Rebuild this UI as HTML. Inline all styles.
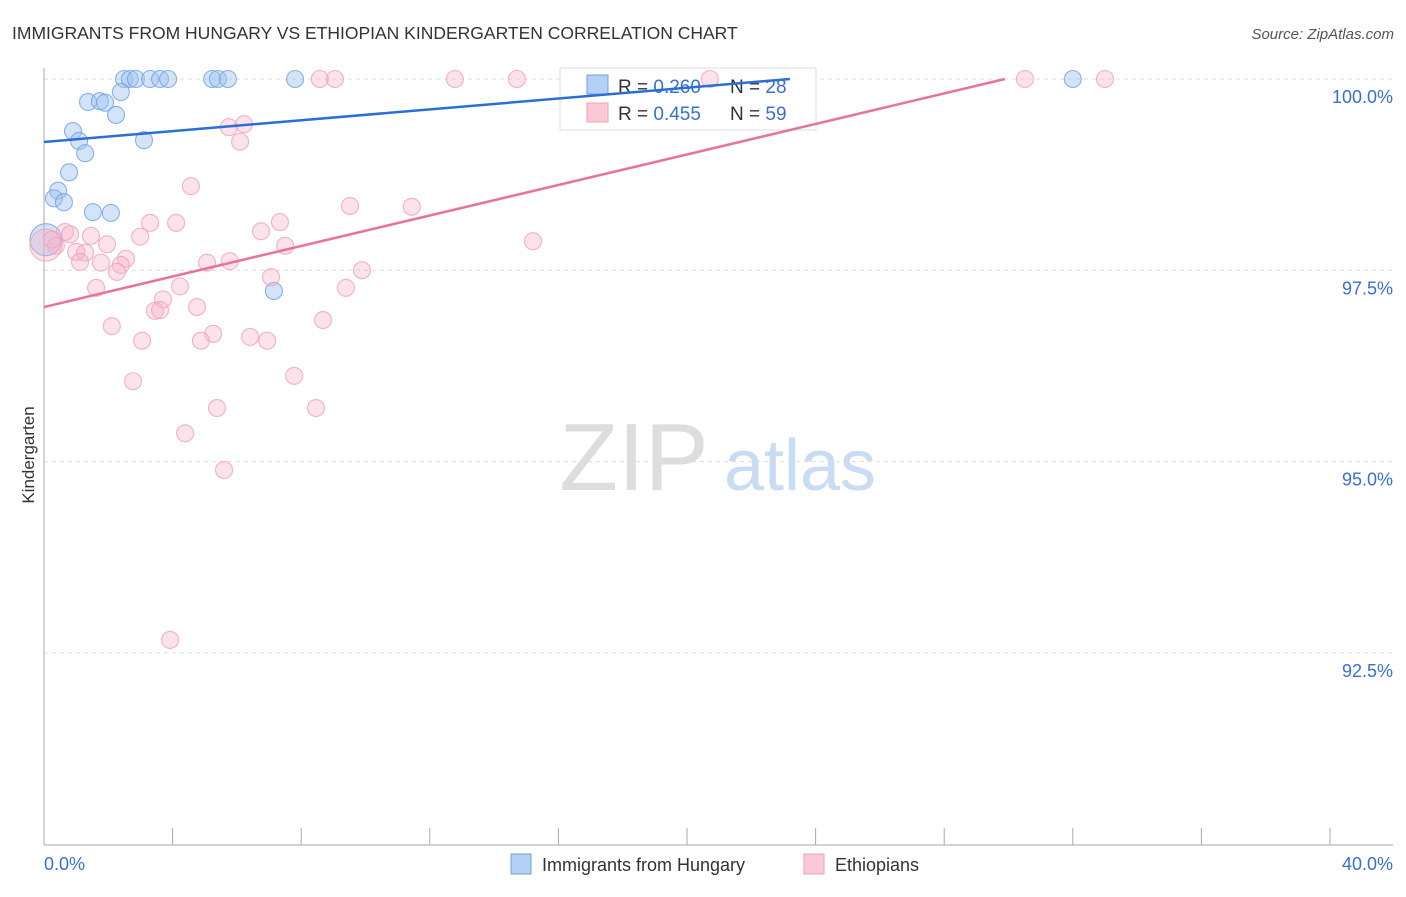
<!DOCTYPE html>
<html><head><meta charset="utf-8"><style>
body{margin:0;background:#fff;font-family:"Liberation Sans",sans-serif}
svg text{font-family:"Liberation Sans",sans-serif}
</style></head><body>
<svg width="1406" height="892">
<text x="12" y="39" font-size="17.5" fill="#333">IMMIGRANTS FROM HUNGARY VS ETHIOPIAN KINDERGARTEN CORRELATION CHART</text>
<text x="1394" y="39" font-size="15" fill="#555" font-style="italic" text-anchor="end">Source: ZipAtlas.com</text>
<g><text x="634" y="490" font-size="96" fill="#ddd" font-family="Liberation Serif" text-anchor="middle">ZIP</text><text x="800" y="490" font-size="72" fill="#c9dcf3" text-anchor="middle">atlas</text></g>
<g id="grid"></g><g id="axes"></g>
<g>
<rect x="560" y="68" width="256" height="62" fill="#fff" fill-opacity="0.8" stroke="#ddd"/>
<rect x="587" y="75" width="21" height="19" fill="#b5d0f5" stroke="#6fa0e0"/>
<rect x="587" y="103" width="21" height="19" fill="#fbc8d6" stroke="#f0a0b8"/>
<text x="618" y="93" font-size="19" fill="#333">R = <tspan fill="#3a6fd0">0.260</tspan><tspan x="730">N = </tspan><tspan fill="#3a6fd0">28</tspan></text>
<text x="618" y="120" font-size="19" fill="#333">R = <tspan fill="#3a6fd0">0.455</tspan><tspan x="730">N = </tspan><tspan fill="#3a6fd0">59</tspan></text>
</g>
<g id="marks"></g>
<text transform="translate(34,455) rotate(-90)" font-size="17" fill="#333" text-anchor="middle">Kindergarten</text>
<g>
<rect x="511" y="854" width="20" height="20" fill="#b5d0f5" stroke="#6fa0e0"/>
<text x="542" y="871" font-size="18" fill="#333">Immigrants from Hungary</text>
<rect x="804" y="854" width="20" height="20" fill="#fbc8d6" stroke="#f0a0b8"/>
<text x="835" y="871" font-size="18" fill="#333">Ethiopians</text>
</g>
</svg>
<script>
const yTicks=[100,97.5,95,92.5];
const yTickLabels=["100.0%","97.5%","95.0%","92.5%"];
const xTickLabels=["0.0%","40.0%"];
const blueX=[2.49,2.67,2.86,3.30,3.61,3.86,5.23,5.41,5.72,7.81,32.0,2.39,1.37,1.74,1.90,2.24,3.11,0.90,1.09,1.28,0.78,0.44,0.31,0.62,1.52,2.08,7.15,0.06];
const blueY=[100,100,100,100,100,100,100,100,100,100,100,99.83,99.70,99.71,99.69,99.53,99.20,99.32,99.19,99.03,98.78,98.54,98.44,98.39,98.26,98.25,97.23,97.90];
const pinkX=[8.58,9.05,12.78,14.71,20.71,30.51,33.0,5.75,6.22,6.10,4.57,9.52,11.44,3.30,4.11,7.34,6.75,15.21,0.65,0.81,1.46,1.96,2.99,7.50,0.37,1.00,1.28,1.12,1.77,2.55,2.39,2.27,5.07,5.78,9.89,7.06,1.62,4.23,9.39,3.70,3.45,3.61,4.76,2.11,8.68,3.05,5.26,4.88,6.41,6.94,7.78,2.77,5.38,8.46,4.39,5.60,3.92,0.06,0.25];
const pinkY=[100,100,100,100,100,100,100,99.37,99.41,99.18,98.60,98.34,98.33,98.12,98.12,98.13,98.01,97.88,98.00,97.97,97.95,97.84,97.94,97.82,97.82,97.74,97.73,97.61,97.60,97.65,97.57,97.48,97.60,97.62,97.50,97.41,97.27,97.29,97.27,97.12,96.97,96.98,97.02,96.77,96.85,96.58,96.67,96.58,96.63,96.58,96.12,96.05,95.70,95.70,95.37,94.89,92.67,97.83,97.90];
const blueTrend=[[0,99.177],[23.2,100]];
const pinkTrend=[[0,97.02],[29.89,100]];
const X=v=>44+v/40*1286, Y=v=>79+(100-v)/2.5*191.3;
const NS="http://www.w3.org/2000/svg";
function mk(t,a,p){const e=document.createElementNS(NS,t);for(const k in a)e.setAttribute(k,a[k]);p.appendChild(e);return e;}
const grid=document.getElementById('grid'),axes=document.getElementById('axes'),marks=document.getElementById('marks');
yTicks.forEach((v,i)=>{
 const l=mk('line',{x1:44,x2:1393,y1:Y(v),y2:Y(v),stroke:'#ddd','stroke-dasharray':'4,4'},grid);
 
 
 const t=mk('text',{x:1393,y:Y(v)+24,'font-size':18,fill:'#3a6fd0','text-anchor':'end'},axes);t.textContent=yTickLabels[i];
 
 
});
const ya=mk('line',{x1:44,x2:44,y1:68,y2:845,stroke:'#aaa'},axes);


const xa=mk('line',{x1:44,x2:1393,y1:845,y2:845,stroke:'#aaa'},axes);


for(let i=0;i<=10;i++){const k=mk('line',{x1:X(i*4),x2:X(i*4),y1:828,y2:845,stroke:'#aaa'},axes);
 
 }
[[0,'start',44],[40,'end',1393]].forEach((d,i)=>{const t=mk('text',{x:d[2],y:870,'font-size':18,fill:'#3a6fd0','text-anchor':d[1]},axes);t.textContent=xTickLabels[i];
 
 });
function pts(xs,ys,fill,stroke,name){xs.forEach((x,i)=>{const big=(i===xs.length-1&&name==='hungary-point')||(i===xs.length-2&&name==='ethiopian-point');
 const c=mk('circle',{cx:X(x),cy:Y(ys[i]),r:big?16:8.5,fill:fill,stroke:stroke,'stroke-width':1.1,'stroke-opacity':0.8},marks);
 
 });}
pts(blueX,blueY,'rgba(160,196,240,0.45)','#6fa0e0','hungary-point');
pts(pinkX,pinkY,'rgba(248,180,200,0.38)','#f0a0b8','ethiopian-point');
const bl=mk('line',{x1:X(blueTrend[0][0]),y1:Y(blueTrend[0][1]),x2:X(blueTrend[1][0]),y2:Y(blueTrend[1][1]),stroke:'#2a6fd4','stroke-width':2.5},marks);


const pl=mk('line',{x1:X(pinkTrend[0][0]),y1:Y(pinkTrend[0][1]),x2:X(pinkTrend[1][0]),y2:Y(pinkTrend[1][1]),stroke:'#e8739a','stroke-width':2.5},marks);


</script>
</body></html>
